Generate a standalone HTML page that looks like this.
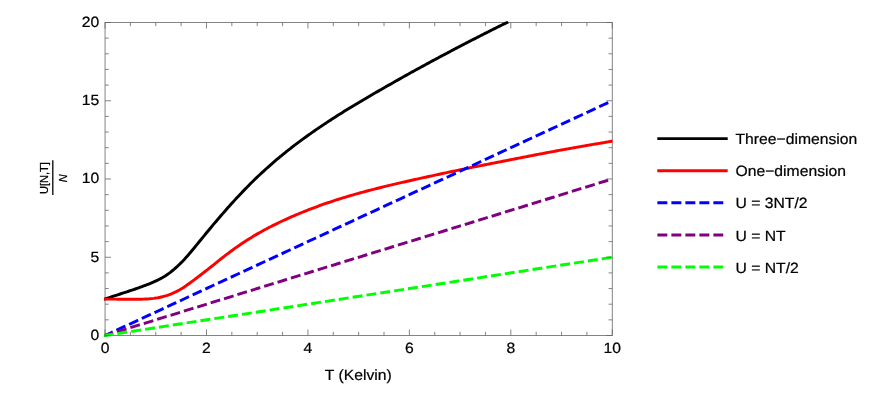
<!DOCTYPE html>
<html><head><meta charset="utf-8"><title>Plot</title>
<style>
html,body{margin:0;padding:0;background:#fff;}
body{width:872px;height:408px;position:relative;overflow:hidden;font-family:"Liberation Sans",sans-serif;}
</style></head><body>
<svg width="872" height="408" viewBox="0 0 872 408" style="position:absolute;left:0;top:0;will-change:transform">
<defs><clipPath id="c"><rect x="104.25" y="21.20" width="508.20" height="315.80"/></clipPath></defs>
<rect x="105.05" y="22.50" width="507.20" height="313.00" stroke="#666666" stroke-width="0.8" fill="none"/>
<g clip-path="url(#c)" fill="none" stroke-width="2.95" stroke-linejoin="round">
<polyline points="105.05,298.96 106.73,298.40 108.41,297.84 110.09,297.29 111.78,296.74 113.46,296.19 115.14,295.65 116.82,295.10 118.50,294.56 120.18,294.02 121.86,293.47 123.55,292.93 125.23,292.38 126.91,291.83 128.59,291.27 130.27,290.71 131.95,290.14 133.63,289.57 135.32,288.99 137.00,288.40 138.68,287.81 140.36,287.20 142.04,286.59 143.72,285.97 145.40,285.33 147.09,284.68 148.77,284.01 150.45,283.33 152.13,282.62 153.81,281.88 155.49,281.12 157.18,280.32 158.86,279.49 160.54,278.62 162.22,277.69 163.90,276.71 165.58,275.67 167.26,274.55 168.95,273.36 170.63,272.11 172.31,270.78 173.99,269.39 175.67,267.92 177.35,266.40 179.03,264.80 180.72,263.14 182.40,261.43 184.08,259.65 185.76,257.82 187.44,255.93 189.12,254.00 190.80,252.02 192.49,250.02 194.17,247.98 195.85,245.93 197.53,243.87 199.21,241.80 200.89,239.73 202.57,237.66 204.26,235.60 205.94,233.54 207.62,231.49 209.30,229.46 210.98,227.44 212.66,225.42 214.34,223.42 216.03,221.44 217.71,219.46 219.39,217.49 221.07,215.54 222.75,213.60 224.43,211.67 226.11,209.75 227.80,207.85 229.48,205.96 231.16,204.09 232.84,202.23 234.52,200.38 236.20,198.55 237.89,196.73 239.57,194.93 241.25,193.15 242.93,191.38 244.61,189.64 246.29,187.91 247.97,186.20 249.66,184.51 251.34,182.83 253.02,181.18 254.70,179.54 256.38,177.92 258.06,176.31 259.74,174.72 261.43,173.15 263.11,171.60 264.79,170.06 266.47,168.53 268.15,167.03 269.83,165.53 271.51,164.06 273.20,162.60 274.88,161.15 276.56,159.72 278.24,158.31 279.92,156.90 281.60,155.52 283.28,154.15 284.97,152.79 286.65,151.44 288.33,150.11 290.01,148.79 291.69,147.49 293.37,146.19 295.05,144.91 296.74,143.64 298.42,142.38 300.10,141.13 301.78,139.89 303.46,138.66 305.14,137.45 306.82,136.24 308.51,135.04 310.19,133.84 311.87,132.66 313.55,131.49 315.23,130.32 316.91,129.16 318.59,128.01 320.28,126.87 321.96,125.74 323.64,124.61 325.32,123.49 327.00,122.38 328.68,121.27 330.37,120.17 332.05,119.08 333.73,118.00 335.41,116.92 337.09,115.85 338.77,114.78 340.45,113.72 342.14,112.67 343.82,111.62 345.50,110.58 347.18,109.54 348.86,108.51 350.54,107.48 352.22,106.46 353.91,105.44 355.59,104.43 357.27,103.42 358.95,102.42 360.63,101.42 362.31,100.42 363.99,99.43 365.68,98.44 367.36,97.46 369.04,96.47 370.72,95.50 372.40,94.52 374.08,93.55 375.76,92.57 377.45,91.60 379.13,90.64 380.81,89.67 382.49,88.71 384.17,87.75 385.85,86.79 387.53,85.83 389.22,84.87 390.90,83.91 392.58,82.96 394.26,82.00 395.94,81.05 397.62,80.10 399.30,79.15 400.99,78.21 402.67,77.26 404.35,76.32 406.03,75.38 407.71,74.44 409.39,73.51 411.08,72.57 412.76,71.64 414.44,70.71 416.12,69.78 417.80,68.86 419.48,67.94 421.16,67.02 422.85,66.10 424.53,65.18 426.21,64.27 427.89,63.36 429.57,62.45 431.25,61.54 432.93,60.63 434.62,59.73 436.30,58.83 437.98,57.93 439.66,57.03 441.34,56.14 443.02,55.24 444.70,54.35 446.39,53.46 448.07,52.58 449.75,51.69 451.43,50.81 453.11,49.92 454.79,49.04 456.47,48.16 458.16,47.28 459.84,46.40 461.52,45.53 463.20,44.65 464.88,43.78 466.56,42.91 468.24,42.04 469.93,41.17 471.61,40.30 473.29,39.43 474.97,38.57 476.65,37.71 478.33,36.84 480.01,35.99 481.70,35.13 483.38,34.27 485.06,33.42 486.74,32.57 488.42,31.72 490.10,30.87 491.78,30.02 493.47,29.18 495.15,28.34 496.83,27.50 498.51,26.66 500.19,25.82 501.87,24.99 503.56,24.16 505.24,23.33 506.92,22.50" stroke="#000" stroke-linecap="square"/>
<polyline points="105.05,299.11 107.17,299.12 109.29,299.12 111.42,299.13 113.54,299.14 115.66,299.15 117.78,299.16 119.91,299.17 122.03,299.19 124.15,299.20 126.27,299.21 128.39,299.22 130.52,299.22 132.64,299.23 134.76,299.23 136.88,299.22 139.00,299.20 141.13,299.16 143.25,299.11 145.37,299.04 147.49,298.94 149.62,298.80 151.74,298.61 153.86,298.38 155.98,298.08 158.10,297.71 160.23,297.28 162.35,296.77 164.47,296.19 166.59,295.55 168.72,294.84 170.84,294.05 172.96,293.17 175.08,292.22 177.20,291.16 179.33,290.02 181.45,288.78 183.57,287.46 185.69,286.05 187.81,284.57 189.94,283.02 192.06,281.44 194.18,279.82 196.30,278.21 198.43,276.60 200.55,274.99 202.67,273.38 204.79,271.76 206.91,270.11 209.04,268.43 211.16,266.74 213.28,265.03 215.40,263.31 217.53,261.60 219.65,259.91 221.77,258.23 223.89,256.58 226.01,254.95 228.14,253.34 230.26,251.75 232.38,250.20 234.50,248.66 236.62,247.16 238.75,245.68 240.87,244.23 242.99,242.80 245.11,241.41 247.24,240.04 249.36,238.71 251.48,237.40 253.60,236.11 255.72,234.86 257.85,233.63 259.97,232.42 262.09,231.24 264.21,230.08 266.34,228.94 268.46,227.82 270.58,226.73 272.70,225.65 274.82,224.59 276.95,223.55 279.07,222.53 281.19,221.53 283.31,220.53 285.43,219.56 287.56,218.60 289.68,217.65 291.80,216.72 293.92,215.80 296.05,214.89 298.17,214.00 300.29,213.12 302.41,212.25 304.53,211.39 306.66,210.55 308.78,209.72 310.90,208.90 313.02,208.09 315.15,207.29 317.27,206.51 319.39,205.73 321.51,204.97 323.63,204.22 325.76,203.48 327.88,202.75 330.00,202.03 332.12,201.33 334.24,200.63 336.37,199.94 338.49,199.27 340.61,198.60 342.73,197.95 344.86,197.30 346.98,196.66 349.10,196.03 351.22,195.41 353.34,194.80 355.47,194.20 357.59,193.60 359.71,193.01 361.83,192.43 363.96,191.85 366.08,191.28 368.20,190.72 370.32,190.16 372.44,189.61 374.57,189.06 376.69,188.52 378.81,187.99 380.93,187.46 383.06,186.93 385.18,186.42 387.30,185.90 389.42,185.39 391.54,184.89 393.67,184.39 395.79,183.89 397.91,183.40 400.03,182.91 402.15,182.42 404.28,181.94 406.40,181.45 408.52,180.98 410.64,180.50 412.77,180.02 414.89,179.55 417.01,179.08 419.13,178.61 421.25,178.14 423.38,177.67 425.50,177.21 427.62,176.74 429.74,176.28 431.87,175.82 433.99,175.36 436.11,174.90 438.23,174.44 440.35,173.98 442.48,173.53 444.60,173.08 446.72,172.62 448.84,172.17 450.96,171.72 453.09,171.28 455.21,170.83 457.33,170.39 459.45,169.95 461.58,169.51 463.70,169.07 465.82,168.63 467.94,168.20 470.06,167.76 472.19,167.33 474.31,166.91 476.43,166.48 478.55,166.05 480.68,165.63 482.80,165.21 484.92,164.79 487.04,164.37 489.16,163.95 491.29,163.53 493.41,163.12 495.53,162.70 497.65,162.29 499.77,161.87 501.90,161.46 504.02,161.04 506.14,160.63 508.26,160.22 510.39,159.80 512.51,159.39 514.63,158.97 516.75,158.55 518.87,158.14 521.00,157.72 523.12,157.31 525.24,156.89 527.36,156.47 529.49,156.06 531.61,155.64 533.73,155.23 535.85,154.82 537.97,154.41 540.10,154.00 542.22,153.59 544.34,153.19 546.46,152.78 548.58,152.38 550.71,151.98 552.83,151.58 554.95,151.18 557.07,150.79 559.20,150.40 561.32,150.01 563.44,149.62 565.56,149.24 567.68,148.85 569.81,148.47 571.93,148.09 574.05,147.72 576.17,147.34 578.30,146.97 580.42,146.60 582.54,146.23 584.66,145.86 586.78,145.50 588.91,145.13 591.03,144.77 593.15,144.41 595.27,144.05 597.39,143.69 599.52,143.33 601.64,142.97 603.76,142.62 605.88,142.26 608.01,141.91 610.13,141.56 612.25,141.21" stroke="#f00" stroke-linecap="square"/>
<line x1="105.05" y1="335.50" x2="612.25" y2="100.75" stroke="#00f" stroke-dasharray="7 7" stroke-linecap="square"/>
<line x1="105.05" y1="335.50" x2="612.25" y2="179.00" stroke="#800080" stroke-dasharray="7 7" stroke-linecap="square"/>
<line x1="105.05" y1="335.50" x2="612.25" y2="257.25" stroke="#0f0" stroke-dasharray="7 7" stroke-linecap="square"/>
</g>
<g stroke="#666666" stroke-width="0.8" fill="none">
<line x1="105.05" y1="335.50" x2="105.05" y2="329.50"/>
<line x1="105.05" y1="22.50" x2="105.05" y2="28.50"/>
<line x1="130.41" y1="335.50" x2="130.41" y2="331.80"/>
<line x1="130.41" y1="22.50" x2="130.41" y2="26.20"/>
<line x1="155.77" y1="335.50" x2="155.77" y2="331.80"/>
<line x1="155.77" y1="22.50" x2="155.77" y2="26.20"/>
<line x1="181.13" y1="335.50" x2="181.13" y2="331.80"/>
<line x1="181.13" y1="22.50" x2="181.13" y2="26.20"/>
<line x1="206.49" y1="335.50" x2="206.49" y2="329.50"/>
<line x1="206.49" y1="22.50" x2="206.49" y2="28.50"/>
<line x1="231.85" y1="335.50" x2="231.85" y2="331.80"/>
<line x1="231.85" y1="22.50" x2="231.85" y2="26.20"/>
<line x1="257.21" y1="335.50" x2="257.21" y2="331.80"/>
<line x1="257.21" y1="22.50" x2="257.21" y2="26.20"/>
<line x1="282.57" y1="335.50" x2="282.57" y2="331.80"/>
<line x1="282.57" y1="22.50" x2="282.57" y2="26.20"/>
<line x1="307.93" y1="335.50" x2="307.93" y2="329.50"/>
<line x1="307.93" y1="22.50" x2="307.93" y2="28.50"/>
<line x1="333.29" y1="335.50" x2="333.29" y2="331.80"/>
<line x1="333.29" y1="22.50" x2="333.29" y2="26.20"/>
<line x1="358.65" y1="335.50" x2="358.65" y2="331.80"/>
<line x1="358.65" y1="22.50" x2="358.65" y2="26.20"/>
<line x1="384.01" y1="335.50" x2="384.01" y2="331.80"/>
<line x1="384.01" y1="22.50" x2="384.01" y2="26.20"/>
<line x1="409.37" y1="335.50" x2="409.37" y2="329.50"/>
<line x1="409.37" y1="22.50" x2="409.37" y2="28.50"/>
<line x1="434.73" y1="335.50" x2="434.73" y2="331.80"/>
<line x1="434.73" y1="22.50" x2="434.73" y2="26.20"/>
<line x1="460.09" y1="335.50" x2="460.09" y2="331.80"/>
<line x1="460.09" y1="22.50" x2="460.09" y2="26.20"/>
<line x1="485.45" y1="335.50" x2="485.45" y2="331.80"/>
<line x1="485.45" y1="22.50" x2="485.45" y2="26.20"/>
<line x1="510.81" y1="335.50" x2="510.81" y2="329.50"/>
<line x1="510.81" y1="22.50" x2="510.81" y2="28.50"/>
<line x1="536.17" y1="335.50" x2="536.17" y2="331.80"/>
<line x1="536.17" y1="22.50" x2="536.17" y2="26.20"/>
<line x1="561.53" y1="335.50" x2="561.53" y2="331.80"/>
<line x1="561.53" y1="22.50" x2="561.53" y2="26.20"/>
<line x1="586.89" y1="335.50" x2="586.89" y2="331.80"/>
<line x1="586.89" y1="22.50" x2="586.89" y2="26.20"/>
<line x1="612.25" y1="335.50" x2="612.25" y2="329.50"/>
<line x1="612.25" y1="22.50" x2="612.25" y2="28.50"/>
<line x1="105.05" y1="335.50" x2="111.05" y2="335.50"/>
<line x1="612.25" y1="335.50" x2="606.25" y2="335.50"/>
<line x1="105.05" y1="319.85" x2="108.75" y2="319.85"/>
<line x1="612.25" y1="319.85" x2="608.55" y2="319.85"/>
<line x1="105.05" y1="304.20" x2="108.75" y2="304.20"/>
<line x1="612.25" y1="304.20" x2="608.55" y2="304.20"/>
<line x1="105.05" y1="288.55" x2="108.75" y2="288.55"/>
<line x1="612.25" y1="288.55" x2="608.55" y2="288.55"/>
<line x1="105.05" y1="272.90" x2="108.75" y2="272.90"/>
<line x1="612.25" y1="272.90" x2="608.55" y2="272.90"/>
<line x1="105.05" y1="257.25" x2="111.05" y2="257.25"/>
<line x1="612.25" y1="257.25" x2="606.25" y2="257.25"/>
<line x1="105.05" y1="241.60" x2="108.75" y2="241.60"/>
<line x1="612.25" y1="241.60" x2="608.55" y2="241.60"/>
<line x1="105.05" y1="225.95" x2="108.75" y2="225.95"/>
<line x1="612.25" y1="225.95" x2="608.55" y2="225.95"/>
<line x1="105.05" y1="210.30" x2="108.75" y2="210.30"/>
<line x1="612.25" y1="210.30" x2="608.55" y2="210.30"/>
<line x1="105.05" y1="194.65" x2="108.75" y2="194.65"/>
<line x1="612.25" y1="194.65" x2="608.55" y2="194.65"/>
<line x1="105.05" y1="179.00" x2="111.05" y2="179.00"/>
<line x1="612.25" y1="179.00" x2="606.25" y2="179.00"/>
<line x1="105.05" y1="163.35" x2="108.75" y2="163.35"/>
<line x1="612.25" y1="163.35" x2="608.55" y2="163.35"/>
<line x1="105.05" y1="147.70" x2="108.75" y2="147.70"/>
<line x1="612.25" y1="147.70" x2="608.55" y2="147.70"/>
<line x1="105.05" y1="132.05" x2="108.75" y2="132.05"/>
<line x1="612.25" y1="132.05" x2="608.55" y2="132.05"/>
<line x1="105.05" y1="116.40" x2="108.75" y2="116.40"/>
<line x1="612.25" y1="116.40" x2="608.55" y2="116.40"/>
<line x1="105.05" y1="100.75" x2="111.05" y2="100.75"/>
<line x1="612.25" y1="100.75" x2="606.25" y2="100.75"/>
<line x1="105.05" y1="85.10" x2="108.75" y2="85.10"/>
<line x1="612.25" y1="85.10" x2="608.55" y2="85.10"/>
<line x1="105.05" y1="69.45" x2="108.75" y2="69.45"/>
<line x1="612.25" y1="69.45" x2="608.55" y2="69.45"/>
<line x1="105.05" y1="53.80" x2="108.75" y2="53.80"/>
<line x1="612.25" y1="53.80" x2="608.55" y2="53.80"/>
<line x1="105.05" y1="38.15" x2="108.75" y2="38.15"/>
<line x1="612.25" y1="38.15" x2="608.55" y2="38.15"/>
<line x1="105.05" y1="22.50" x2="111.05" y2="22.50"/>
<line x1="612.25" y1="22.50" x2="606.25" y2="22.50"/>
</g>
<g font-family="Liberation Sans, sans-serif" fill="#000000" stroke="#000000" stroke-width="0.22" style="text-rendering:geometricPrecision">
<text transform="translate(105.05,352.90) scale(1.055,1)" text-anchor="middle" font-size="14.9" >0</text>
<text transform="translate(206.49,352.90) scale(1.055,1)" text-anchor="middle" font-size="14.9" >2</text>
<text transform="translate(307.93,352.90) scale(1.055,1)" text-anchor="middle" font-size="14.9" >4</text>
<text transform="translate(409.37,352.90) scale(1.055,1)" text-anchor="middle" font-size="14.9" >6</text>
<text transform="translate(510.81,352.90) scale(1.055,1)" text-anchor="middle" font-size="14.9" >8</text>
<text transform="translate(612.25,352.90) scale(1.055,1)" text-anchor="middle" font-size="14.9" >10</text>
<text transform="translate(99.35,339.95) scale(1.055,1)" text-anchor="end" font-size="14.9" >0</text>
<text transform="translate(99.35,261.70) scale(1.055,1)" text-anchor="end" font-size="14.9" >5</text>
<text transform="translate(99.35,183.45) scale(1.055,1)" text-anchor="end" font-size="14.9" >10</text>
<text transform="translate(99.35,105.20) scale(1.055,1)" text-anchor="end" font-size="14.9" >15</text>
<text transform="translate(99.35,26.95) scale(1.055,1)" text-anchor="end" font-size="14.9" >20</text>
<text transform="translate(358.30,379.80) scale(1.055,1)" text-anchor="middle" font-size="14.9" >T (Kelvin)</text>
<text transform="translate(735.50,144.25) scale(1.055,1)" text-anchor="start" font-size="14.9" >Three−dimension</text>
<text transform="translate(735.50,176.35) scale(1.055,1)" text-anchor="start" font-size="14.9" >One−dimension</text>
<text transform="translate(735.50,208.45) scale(1.055,1)" text-anchor="start" font-size="14.9" >U = 3NT/2</text>
<text transform="translate(735.50,240.55) scale(1.055,1)" text-anchor="start" font-size="14.9" >U = NT</text>
<text transform="translate(735.50,272.65) scale(1.055,1)" text-anchor="start" font-size="14.9" >U = NT/2</text>
</g>
<line x1="657.3" y1="138.6" x2="727.7" y2="138.6" stroke="#000" stroke-width="2.95"/>
<line x1="657.3" y1="170.7" x2="727.7" y2="170.7" stroke="#f00" stroke-width="2.95"/>
<line x1="658.85" y1="202.8" x2="721.8" y2="202.8" stroke="#00f" stroke-width="2.95" stroke-dasharray="7 7" stroke-linecap="square"/>
<line x1="658.85" y1="234.9" x2="721.8" y2="234.9" stroke="#800080" stroke-width="2.95" stroke-dasharray="7 7" stroke-linecap="square"/>
<line x1="658.85" y1="267.0" x2="721.8" y2="267.0" stroke="#0f0" stroke-width="2.95" stroke-dasharray="7 7" stroke-linecap="square"/>
<g transform="translate(52.4,177.6) rotate(-90)" font-family="Liberation Sans, sans-serif" fill="#000" stroke="#000" stroke-width="0.25">
<text x="-0.5" y="-4.0" font-size="11.1" text-anchor="middle">U[N,T]</text>
<line x1="-17.4" y1="0.4" x2="17.4" y2="0.4" stroke="#000" stroke-width="1.3"/>
<text x="-0.7" y="14.6" font-size="10.9" text-anchor="middle" font-style="italic">N</text>
</g>
</svg>
</body></html>
